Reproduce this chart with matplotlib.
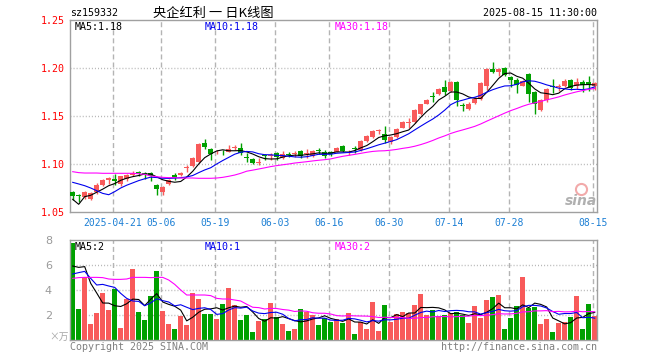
import numpy as np
import matplotlib
matplotlib.use('Agg')
import matplotlib.pyplot as plt
from matplotlib.lines import Line2D

# ---- data (price in yuan, volume in 10k) ----
opens = [1.071, 1.068, 1.066, 1.064, 1.071, 1.078, 1.083, 1.084, 1.079, 1.084,
         1.089, 1.092, 1.091, 1.091, 1.078, 1.071, 1.079, 1.089, 1.089, 1.096,
         1.098, 1.102, 1.122, 1.116, 1.112, 1.113, 1.113, 1.117, 1.117, 1.107,
         1.105, 1.101, 1.109, 1.108, 1.111, 1.106, 1.110, 1.110, 1.114, 1.110,
         1.108, 1.115, 1.113, 1.113, 1.113, 1.119, 1.112, 1.117, 1.115, 1.124,
         1.128, 1.134, 1.131, 1.123, 1.128, 1.138, 1.143, 1.144, 1.152, 1.1625,
         1.171, 1.173, 1.180, 1.176, 1.185, 1.161, 1.157, 1.164, 1.168, 1.181,
         1.199, 1.196, 1.200, 1.191, 1.188, 1.181, 1.194, 1.175, 1.156, 1.167,
         1.181, 1.180, 1.181, 1.188, 1.181, 1.185, 1.185, 1.181]
highs = [1.072, 1.069, 1.072, 1.071, 1.080, 1.084, 1.086, 1.090, 1.088, 1.090,
         1.093, 1.093, 1.092, 1.092, 1.079, 1.077, 1.084, 1.091, 1.092, 1.099,
         1.107, 1.122, 1.126, 1.117, 1.115, 1.115, 1.120, 1.120, 1.122, 1.111,
         1.106, 1.106, 1.110, 1.111, 1.112, 1.114, 1.113, 1.114, 1.115, 1.116,
         1.115, 1.117, 1.115, 1.114, 1.118, 1.120, 1.115, 1.119, 1.125, 1.130,
         1.135, 1.136, 1.140, 1.129, 1.137, 1.145, 1.148, 1.157, 1.163, 1.168,
         1.175, 1.179, 1.188, 1.186, 1.186, 1.164, 1.165, 1.170, 1.185, 1.200,
         1.206, 1.200, 1.201, 1.192, 1.190, 1.187, 1.195, 1.176, 1.168, 1.179,
         1.189, 1.183, 1.189, 1.189, 1.190, 1.187, 1.192, 1.185]
lows = [1.062, 1.060, 1.064, 1.062, 1.069, 1.077, 1.079, 1.078, 1.077, 1.082,
        1.088, 1.087, 1.084, 1.082, 1.068, 1.068, 1.078, 1.083, 1.087, 1.092,
        1.097, 1.101, 1.116, 1.104, 1.110, 1.109, 1.112, 1.115, 1.109, 1.102,
        1.100, 1.099, 1.104, 1.104, 1.104, 1.105, 1.107, 1.107, 1.106, 1.106,
        1.107, 1.110, 1.106, 1.108, 1.112, 1.113, 1.109, 1.111, 1.114, 1.123,
        1.127, 1.131, 1.122, 1.121, 1.127, 1.137, 1.138, 1.143, 1.151, 1.162,
        1.165, 1.172, 1.172, 1.175, 1.160, 1.155, 1.156, 1.163, 1.167, 1.177,
        1.195, 1.192, 1.192, 1.180, 1.174, 1.181, 1.165, 1.152, 1.155, 1.165,
        1.174, 1.176, 1.180, 1.177, 1.178, 1.175, 1.176, 1.177]
closes = [1.067, 1.067, 1.071, 1.070, 1.078, 1.083, 1.085, 1.082, 1.087, 1.089,
          1.091, 1.091, 1.090, 1.087, 1.074, 1.076, 1.083, 1.085, 1.091, 1.097,
          1.106, 1.121, 1.118, 1.110, 1.113, 1.112, 1.116, 1.118, 1.111, 1.106,
          1.101, 1.102, 1.108, 1.109, 1.107, 1.110, 1.109, 1.111, 1.108, 1.111,
          1.114, 1.114, 1.108, 1.110, 1.117, 1.114, 1.113, 1.116, 1.124, 1.129,
          1.134, 1.135, 1.125, 1.128, 1.136, 1.144, 1.144, 1.156, 1.1625, 1.167,
          1.170, 1.178, 1.175, 1.185, 1.167, 1.160, 1.162, 1.168, 1.184, 1.199,
          1.196, 1.199, 1.193, 1.187, 1.182, 1.186, 1.173, 1.163, 1.167, 1.178,
          1.180, 1.181, 1.186, 1.179, 1.185, 1.182, 1.182, 1.184]

ma5 = [1.0632, 1.0580, 1.0660, 1.0674,
       1.0706, 1.0738, 1.0774, 1.0796, 1.0830, 1.0852, 1.0868, 1.0880, 1.0896, 1.0896,
       1.0866, 1.0836, 1.0820, 1.0810, 1.0818, 1.0864, 1.0924, 1.1000, 1.1066, 1.1104,
       1.1136, 1.1148, 1.1138, 1.1138, 1.1140, 1.1126, 1.1104, 1.1076, 1.1056, 1.1052,
       1.1054, 1.1072, 1.1086, 1.1092, 1.1090, 1.1098, 1.1106, 1.1116, 1.1110, 1.1114,
       1.1126, 1.1126, 1.1124, 1.1140, 1.1168, 1.1192, 1.1232, 1.1276, 1.1294, 1.1302,
       1.1316, 1.1336, 1.1354, 1.1416, 1.1485, 1.1547, 1.1599, 1.1667, 1.1705, 1.1750,
       1.1750, 1.1730, 1.1698, 1.1684, 1.1682, 1.1746, 1.1818, 1.1892, 1.1942, 1.1948,
       1.1914, 1.1894, 1.1842, 1.1782, 1.1742, 1.1734, 1.1722, 1.1738, 1.1784, 1.1808,
       1.1822, 1.1826, 1.1828, 1.1824]
ma10 = [1.0809, 1.0792, 1.0774, 1.0750, 1.0722, 1.0694, 1.0680, 1.0712, 1.0750,
        1.0779, 1.0803, 1.0827, 1.0846, 1.0863, 1.0859, 1.0852, 1.0850, 1.0853, 1.0857,
        1.0865, 1.0880, 1.0910, 1.0938, 1.0961, 1.1000, 1.1036, 1.1069, 1.1102, 1.1122,
        1.1131, 1.1126, 1.1107, 1.1097, 1.1096, 1.1090, 1.1088, 1.1081, 1.1074, 1.1071,
        1.1076, 1.1089, 1.1101, 1.1101, 1.1102, 1.1112, 1.1116, 1.1120, 1.1125, 1.1141,
        1.1159, 1.1179, 1.1200, 1.1217, 1.1235, 1.1254, 1.1284, 1.1315, 1.1355, 1.1394,
        1.1432, 1.1468, 1.1511, 1.1561, 1.1618, 1.1649, 1.1665, 1.1683, 1.1695, 1.1716,
        1.1748, 1.1774, 1.1795, 1.1813, 1.1815, 1.1830, 1.1856, 1.1867, 1.1862, 1.1845,
        1.1824, 1.1808, 1.1790, 1.1783, 1.1775, 1.1778, 1.1774, 1.1783, 1.1804]
ma30 = [1.0920, 1.0910, 1.0906, 1.0906, 1.0906, 1.0903, 1.0903, 1.0903, 1.0903, 1.0903,
        1.0903, 1.0899, 1.0892, 1.0875, 1.0868, 1.0861, 1.0858, 1.0858, 1.0854, 1.0854,
        1.0854, 1.0851, 1.0851, 1.0851, 1.0854, 1.0861, 1.0872, 1.0885, 1.0903,
        1.0925, 1.0936, 1.0948, 1.0960, 1.0973, 1.0983, 1.0992, 1.1000, 1.1010, 1.1017,
        1.1024, 1.1032, 1.1039, 1.1045, 1.1053, 1.1067, 1.1080, 1.1090, 1.1100, 1.1111,
        1.1122, 1.1131, 1.1136, 1.1138, 1.1144, 1.1152, 1.1163, 1.1172, 1.1185, 1.1202,
        1.1222, 1.1245, 1.1271, 1.1293, 1.1318, 1.1338, 1.1355, 1.1373, 1.1392, 1.1417,
        1.1446, 1.1474, 1.1502, 1.1530, 1.1556, 1.1578, 1.1602, 1.1622, 1.1637, 1.1652,
        1.1668, 1.1683, 1.1699, 1.1719, 1.1736, 1.1752, 1.1765, 1.1778, 1.1787]

volumes = [7.79, 2.48, 5.07, 1.28, 2.19, 3.79, 2.40, 4.05, 0.96, 3.28,
           5.65, 2.24, 1.60, 3.52, 5.52, 2.32, 1.28, 0.88, 1.95, 1.20,
           3.79, 3.28, 2.08, 2.08, 1.68, 2.88, 4.16, 2.77, 1.60, 2.00,
           0.67, 1.55, 1.68, 2.99, 1.87, 1.28, 0.75, 0.88, 2.48, 2.27,
           2.00, 1.20, 1.73, 1.47, 1.65, 1.39, 2.19, 0.48, 1.44, 0.91,
           3.07, 0.75, 2.80, 1.44, 2.08, 2.27, 2.19, 2.80, 3.68, 2.00,
           2.40, 1.95, 2.00, 2.13, 2.27, 2.00, 1.39, 2.72, 1.79, 3.20,
           3.44, 3.60, 0.88, 1.79, 2.72, 5.04, 2.53, 2.67, 1.28, 1.68,
           0.64, 1.39, 1.44, 1.81, 3.52, 0.88, 2.88, 1.95]
vol_ma5 = [5.92, 5.81, 5.87, 4.53,
           3.76, 2.96, 2.95, 2.74, 2.68, 2.90, 3.27, 3.24, 2.75, 3.26,
           3.71, 3.04, 2.85, 2.70, 2.39, 1.53, 1.82, 2.22, 2.46, 2.49,
           2.58, 2.40, 2.58, 2.71, 2.62, 2.68, 2.24, 1.72, 1.50, 1.78,
           1.75, 1.87, 1.71, 1.55, 1.45, 1.53, 1.68, 1.77, 1.94, 1.73,
           1.61, 1.49, 1.69, 1.44, 1.43, 1.28, 1.62, 1.33, 1.79, 1.79,
           2.03, 1.87, 2.16, 2.16, 2.60, 2.59, 2.61, 2.57, 2.41, 2.10,
           2.15, 2.07, 1.96, 2.10, 2.03, 2.22, 2.51, 2.95, 2.58, 2.58,
           2.49, 2.81, 2.59, 2.95, 2.85, 2.64, 1.76, 1.53, 1.29, 1.39,
           1.76, 1.81, 2.11, 2.21]
vol_ma10 = [5.28, 5.39, 5.49, 4.93, 4.40, 4.45, 4.32, 4.21, 3.73,
            3.33, 3.12, 3.09, 2.74, 2.97, 3.30, 3.15, 3.04, 2.73, 2.82,
            2.62, 2.43, 2.53, 2.58, 2.44, 2.05, 2.11, 2.40, 2.59, 2.55,
            2.63, 2.32, 2.15, 2.11, 2.20, 2.22, 2.06, 1.72, 1.53, 1.62,
            1.64, 1.78, 1.74, 1.75, 1.59, 1.57, 1.58, 1.73, 1.69, 1.58,
            1.45, 1.55, 1.51, 1.62, 1.61, 1.66, 1.74, 1.74, 1.98, 2.20,
            2.31, 2.24, 2.36, 2.28, 2.35, 2.37, 2.34, 2.26, 2.25, 2.07,
            2.19, 2.29, 2.45, 2.34, 2.31, 2.35, 2.66, 2.77, 2.77, 2.72,
            2.56, 2.28, 2.06, 2.12, 2.12, 2.20, 1.78, 1.82, 1.75]
vol_ma30 = [4.93, 4.99, 5.01, 5.01, 5.01, 4.99, 4.88, 4.85, 4.85, 4.88,
            5.01, 5.01, 5.01, 4.99, 5.01, 5.01, 4.80, 4.45, 4.00, 3.60,
            3.60, 3.60, 3.60, 3.55, 3.33, 3.28, 3.28, 3.20, 3.12,
            2.86, 2.62, 2.59, 2.48, 2.53, 2.52, 2.44, 2.39, 2.28, 2.33,
            2.30, 2.18, 2.14, 2.14, 2.08, 1.95, 1.92, 1.95, 1.93, 1.92,
            1.91, 1.88, 1.80, 1.82, 1.80, 1.81, 1.79, 1.73, 1.73, 1.80,
            1.80, 1.86, 1.87, 1.88, 1.85, 1.87, 1.89, 1.91, 1.97, 1.95,
            1.98, 2.03, 2.11, 2.08, 2.09, 2.13, 2.25, 2.26, 2.33, 2.33,
            2.35, 2.27, 2.29, 2.25, 2.26, 2.31, 2.26, 2.28, 2.26]

tick_idx = [7, 15, 24, 34, 43, 53, 63, 73, 87]
tick_labels = ['2025-04-21', '05-06', '05-19', '06-03', '06-16',
               '06-30', '07-14', '07-28', '08-15']
price_ticks = [1.05, 1.10, 1.15, 1.20, 1.25]
vol_ticks = [2, 4, 6, 8]

RED = '#f85a5a'
GREEN = '#00a000'
GRID = '#b4b4b4'
SPINE = '#a0a0a0'
MONO = 'DejaVu Sans Mono'
W, H = 660, 360


def fx(x):
    return x / W


def fy(y):
    return 1 - y / H


fig = plt.figure(figsize=(6.6, 3.6), dpi=100)
fig.patch.set_facecolor('white')
ax = fig.add_axes([fx(70), fy(212), 527 / W, 192 / H])
axv = fig.add_axes([fx(70), fy(340), 527 / W, 100 / H])

o = np.array(opens)
c = np.array(closes)
x = np.arange(len(c))
cols = np.where(c >= o, RED, GREEN)

# grids
grid_x = [i - 0.3 for i in tick_idx]
for a, hl in ((ax, price_ticks[1:-1]), (axv, vol_ticks[:-1])):
    for g in grid_x:
        a.axvline(g, color=GRID, lw=1, dashes=(3.6, 2.2), zorder=0)
    for h in hl:
        a.axhline(h, color=GRID, lw=1, dashes=(0.7, 1.5), zorder=0)

# candles
ax.vlines(x, lows, highs, colors=cols, lw=1, zorder=2)
ax.bar(x, np.maximum(np.abs(c - o), 0.0008), bottom=np.minimum(o, c),
       width=0.8, color=cols, lw=0, zorder=3)
ax.plot(x, ma5, color='black', lw=0.8, zorder=4)
ax.plot(x, ma10, color='#0000ee', lw=0.8, zorder=4)
ax.plot(x, ma30, color='#ff00ff', lw=0.8, zorder=4)

# volume
axv.bar(x, volumes, width=0.82, color=cols, lw=0, zorder=2)
axv.plot(x, vol_ma5, color='black', lw=0.8, zorder=4)
axv.plot(x, vol_ma10, color='#0000ee', lw=0.8, zorder=4)
axv.plot(x, vol_ma30, color='#ff00ff', lw=0.8, zorder=4)

for a in (ax, axv):
    a.set_xlim(-0.45, 87.38)
    for s in a.spines.values():
        s.set_color(SPINE)
        s.set_linewidth(1)
    a.tick_params(length=0)

ax.set_ylim(1.05, 1.25)
ax.set_yticks(price_ticks)
ax.set_yticklabels(['%.2f' % t for t in price_ticks], color='red',
                   fontfamily=MONO, fontsize=7.2)
ax.tick_params(axis='y', pad=4)
ax.set_xticks(grid_x)
ax.set_xticklabels(tick_labels, color='#1c7fd4', fontfamily=MONO, fontsize=7)
ax.tick_params(axis='x', pad=4)

axv.set_ylim(0, 8)
axv.set_yticks(vol_ticks)
axv.set_yticklabels([str(t) for t in vol_ticks], color='#9a9a9a', fontsize=8)
axv.tick_params(axis='y', pad=13)
axv.set_xticks([])

# header and labels
fig.text(fx(70), fy(13), 'sz159332', fontfamily=MONO, fontsize=7.2, va='center')
fig.text(fx(213), fy(13), '央企红利 一 日K线图', family=['Noto Sans CJK SC', 'DejaVu Sans'],
         fontsize=9.5, ha='center', va='center')
fig.text(fx(597), fy(13), '2025-08-15 11:30:00', fontfamily=MONO, fontsize=7.2,
         ha='right', va='center')

for xp, txt, col in ((75, 'MA5:%.2f' % ma5[-1], 'black'),
                     (205, 'MA10:%.2f' % ma10[-1], '#0000ee'),
                     (335, 'MA30:%.2f' % ma30[-1], '#ff00ff')):
    fig.text(fx(xp), fy(27), txt, color=col, fontfamily=MONO, fontsize=7.2, va='center')
for xp, txt, col in ((75, 'MA5:%d' % int(vol_ma5[-1]), 'black'),
                     (205, 'MA10:%d' % int(vol_ma10[-1]), '#0000ee'),
                     (335, 'MA30:%d' % int(vol_ma30[-1]), '#ff00ff')):
    fig.text(fx(xp), fy(246.5), txt, color=col, fontfamily=MONO, fontsize=7.2, va='center')

fig.text(fx(49), fy(337), '×万', family=['Noto Sans CJK SC', 'DejaVu Sans'],
         fontsize=7, color='#a8a8a8', va='center')
fig.text(fx(70), fy(346.5), 'Copyright 2025 SINA.COM', fontfamily=MONO,
         fontsize=7.2, color='#808080', va='center')
fig.text(fx(597), fy(346.5), 'http://finance.sina.com.cn', fontfamily=MONO,
         fontsize=7.2, color='#808080', va='center', ha='right')

# sina watermark
fig.add_artist(Line2D([fx(581)], [fy(189)], marker='o', markersize=8,
                      markerfacecolor='none', markeredgecolor='#f2aaaa',
                      markeredgewidth=1.5, transform=fig.transFigure))
fig.text(fx(581), fy(201), 'sina', fontsize=10, fontweight='bold', style='italic',
         color='#b0b0b0', ha='center', va='center')

fig.savefig('out.png', dpi=100, facecolor='white')
